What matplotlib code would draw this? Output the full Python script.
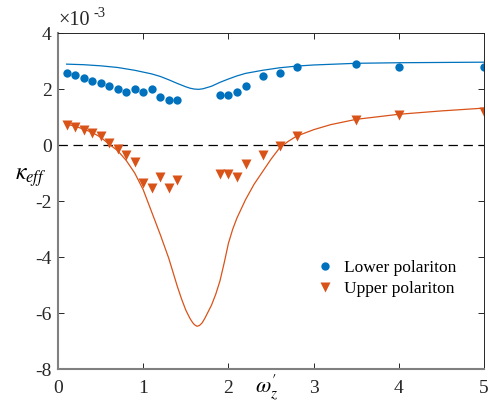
import numpy as np
import matplotlib.pyplot as plt

plt.rcParams['font.family'] = ['Liberation Serif', 'DejaVu Serif']
plt.rcParams['mathtext.fontset'] = 'stix'
plt.rcParams['axes.unicode_minus'] = False

# measured points (kappa_eff in units of 1e-3)
lower_x = [0.1, 0.2, 0.3, 0.4, 0.5, 0.6, 0.7, 0.8, 0.9, 1.0, 1.1, 1.2, 1.3, 1.4,
           1.9, 2.0, 2.1, 2.2, 2.4, 2.6, 2.8, 3.5, 4.0, 5.0]
lower_y = [2.58, 2.5, 2.4, 2.29, 2.2, 2.1, 2.0, 1.9, 2.0, 1.9, 2.0, 1.7, 1.6, 1.6,
           1.8, 1.8, 1.9, 2.1, 2.48, 2.58, 2.79, 2.89, 2.8, 2.8]
upper_x = lower_x
upper_y = [0.72, 0.63, 0.53, 0.43, 0.33, 0.07, -0.13, -0.37, -0.62, -1.34, -1.54, -1.14, -1.54, -1.25,
           -1.03, -1.03, -1.14, -0.66, -0.35, -0.05, 0.33, 0.88, 1.07, 1.17]

# theory curves
lower_fit_x = [0.1, 0.3, 0.5, 0.7, 0.9, 1.1, 1.2, 1.3, 1.4, 1.5, 1.55, 1.6, 1.65, 1.7, 1.8,
               1.9, 2.0, 2.1, 2.2, 2.4, 2.6, 2.8, 3.0, 3.5, 4.0, 4.5, 5.0]
lower_fit_y = [2.89, 2.87, 2.83, 2.77, 2.67, 2.54, 2.45, 2.33, 2.2, 2.08, 2.03, 2.0, 1.99, 2.01, 2.1,
               2.24, 2.36, 2.47, 2.56, 2.67, 2.76, 2.82, 2.86, 2.92, 2.94, 2.95, 2.96]
upper_fit_x = [0.1, 0.2, 0.3, 0.4, 0.5, 0.6, 0.7, 0.8, 0.9, 1.0, 1.1, 1.2, 1.3, 1.4, 1.45, 1.5,
               1.55, 1.58, 1.6, 1.63, 1.66, 1.69, 1.72, 1.75, 1.8, 1.85, 1.9, 1.95, 2.0, 2.05,
               2.1, 2.2, 2.3, 2.4, 2.5, 2.6, 2.7, 2.8, 3.0, 3.2, 3.5, 4.0, 4.5, 5.0]
upper_fit_y = [0.75, 0.67, 0.57, 0.45, 0.28, 0.03, -0.2, -0.55, -1.0, -1.6, -2.4, -3.2, -4.05, -5.05,
               -5.5, -5.9, -6.2, -6.34, -6.41, -6.47, -6.44, -6.35, -6.2, -6.02, -5.72, -5.33,
               -4.85, -4.2, -3.5, -3.0, -2.6, -1.95, -1.4, -0.95, -0.5, -0.1, 0.13, 0.32, 0.55,
               0.73, 0.92, 1.1, 1.22, 1.32]

blue = '#0072BD'
orange = '#D95319'
dark = '#262626'

fig = plt.figure(figsize=(4.88, 4.03), dpi=100)
ax = fig.add_axes([0.119, 0.084, 0.873, 0.834])

ax.axhline(0, color='k', lw=0.9, ls=(0, (7.5, 4.5)))
ax.plot(lower_fit_x, lower_fit_y, color=blue, lw=0.9)
ax.plot(upper_fit_x, upper_fit_y, color=orange, lw=0.9)
ax.plot(lower_x, lower_y, 'o', color=blue, ms=6, mec='none', label='Lower polariton')
ax.plot(upper_x, upper_y, 'v', color=orange, ms=6.5, mec='none', label='Upper polariton')

ax.set_xlim(0, 5)
ax.set_ylim(-8, 4)
ax.set_xticks([0, 1, 2, 3, 4, 5])
ax.set_yticks([-8, -6, -4, -2, 0, 2, 4])
ax.tick_params(direction='in', length=4, width=0.7, top=True, right=True,
               labelsize=14, colors=dark)
ax.tick_params(axis='x', pad=8)
ax.tick_params(axis='y', pad=4.5)
for lbl in ax.get_xticklabels() + ax.get_yticklabels():
    lbl.set_fontfamily('Liberation Serif')

# exponent shown above the axis, as in the original
ax.annotate('×10', xy=(0, 1), xycoords='axes fraction', xytext=(0, 2),
            textcoords='offset points', fontsize=14.5, color=dark, va='bottom', ha='left')
ax.annotate('-3', xy=(0, 1), xycoords='axes fraction', xytext=(25.5, 9.5),
            textcoords='offset points', fontsize=10.5, color=dark, va='bottom', ha='left')

for side in ['top', 'right']:
    ax.spines[side].set_color(dark)
    ax.spines[side].set_linewidth(0.7)
for side in ['left', 'bottom']:
    ax.spines[side].set_color('#808080')
    ax.spines[side].set_linewidth(1.5)

ax.set_ylabel(r'$\kappa_{eff}$', rotation=0, fontsize=17, va='center', ha='center')
ax.yaxis.set_label_coords(-0.064, 0.571)
ax.set_xlabel(r"$\omega_z'$", fontsize=16, va='center', ha='center')
ax.xaxis.set_label_coords(0.49, -0.055)

ax.legend(loc='center left', bbox_to_anchor=(0.57, 0.27), frameon=False, fontsize=12.5,
          handlelength=1.0, handletextpad=0.6, labelspacing=0.25)

fig.savefig('out.png', dpi=100)
